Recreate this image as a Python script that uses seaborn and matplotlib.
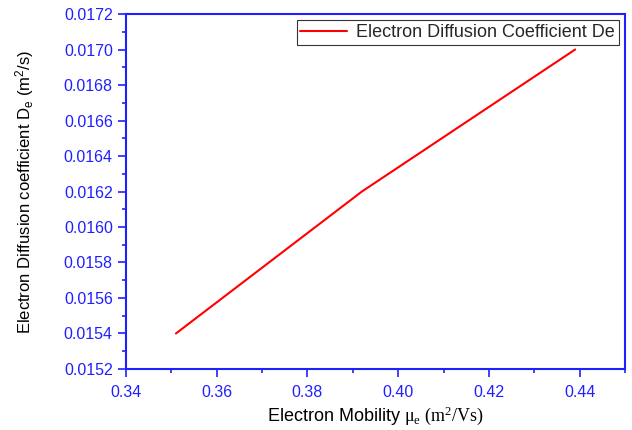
import matplotlib
matplotlib.use("Agg")
import matplotlib.pyplot as plt
import seaborn as sns
import pandas as pd
from matplotlib.ticker import MultipleLocator, FormatStrFormatter

mobility = [0.351, 0.392, 0.439]
diffusion = [0.0154, 0.0162, 0.0170]
series_name = "Electron Diffusion Coefficient De"

sns.set_style("white")
plt.rcParams['font.family'] = ['Liberation Sans', 'DejaVu Sans']
plt.rcParams['mathtext.fontset'] = 'custom'
plt.rcParams['mathtext.rm'] = 'Liberation Serif'
plt.rcParams['mathtext.it'] = 'Liberation Serif:italic'
plt.rcParams['mathtext.default'] = 'regular'

df = pd.DataFrame({"x": mobility, "y": diffusion, "s": series_name})

fig = plt.figure(figsize=(6.32, 4.30), dpi=100)
ax = fig.add_axes([0.1994, 0.1419, 0.7896, 0.8255])
sns.lineplot(data=df, x="x", y="y", hue="s", palette=["#ff0000"], lw=1.5, ax=ax)

ax.set_xlim(0.34, 0.45)
ax.set_ylim(0.0152, 0.0172)
ax.xaxis.set_major_locator(MultipleLocator(0.02))
ax.xaxis.set_minor_locator(MultipleLocator(0.01))
ax.yaxis.set_major_locator(MultipleLocator(0.0002))
ax.yaxis.set_minor_locator(MultipleLocator(0.0001))
ax.xaxis.set_major_formatter(FormatStrFormatter('%.2f'))
ax.yaxis.set_major_formatter(FormatStrFormatter('%.4f'))

blue = "#2020ff"
for sp in ax.spines.values():
    sp.set_color(blue)
    sp.set_linewidth(1.5)
ax.tick_params(which='both', direction='out', colors=blue, labelcolor=blue,
               bottom=True, left=True, top=False, right=False, labelsize=11.5)
ax.tick_params(which='major', length=5.5, width=1.2, pad=4)
ax.tick_params(which='minor', length=3, width=1.2)
ax.tick_params(axis='x', which='major', pad=6)

ax.set_xlabel(r"Electron Mobility $\mathrm{\mu_e\ (m^2/Vs)}$", fontsize=13, color='black', labelpad=3)
ax.set_ylabel(r"Electron Diffusion coefficient D$_e$ (m$^2$/s)", fontsize=12, color='black', labelpad=20)

leg = ax.legend(loc='upper right', fontsize=13, frameon=True, fancybox=False,
                borderpad=0.2, handlelength=2.6, handletextpad=0.5, borderaxespad=0.35)
leg.get_frame().set_edgecolor('black')
leg.get_frame().set_linewidth(0.8)
leg.set_title(None)

fig.savefig("out.png", dpi=100)
